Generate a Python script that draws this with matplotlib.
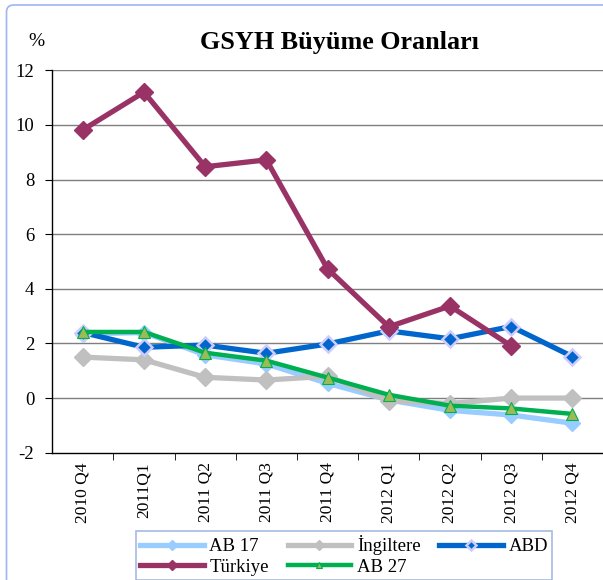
import numpy as np
import matplotlib
matplotlib.use("Agg")
import matplotlib.pyplot as plt
from matplotlib.patches import FancyBboxPatch

categories = ["2010 Q4", "2011Q1", "2011 Q2", "2011 Q3", "2011 Q4",
              "2012 Q1", "2012 Q2", "2012 Q3", "2012 Q4"]
ab17 = [2.35, 2.40, 1.58, 1.25, 0.54, -0.07, -0.45, -0.62, -0.92]
ingiltere = [1.50, 1.40, 0.76, 0.66, 0.80, -0.10, -0.20, 0.00, 0.00]
abd = [2.40, 1.86, 1.94, 1.64, 1.98, 2.46, 2.17, 2.62, 1.52]
turkiye = [9.82, 11.20, 8.47, 8.72, 4.73, 2.61, 3.37, 1.91, np.nan]
ab27 = [2.42, 2.42, 1.66, 1.37, 0.75, 0.12, -0.28, -0.38, -0.58]
yticks = [-2, 0, 2, 4, 6, 8, 10, 12]

plt.rcParams['font.family'] = ['Liberation Serif', 'DejaVu Serif']

W, H = 603, 580
fig = plt.figure(figsize=(W / 100, H / 100), dpi=100)
fig.patch.set_facecolor('white')

# outer chart border (rounded, extends past right/bottom edges)
border = FancyBboxPatch((6.5 / W, -0.1), 1.2, (H - 5) / H + 0.1,
                        boxstyle="round,pad=0,rounding_size=0.012",
                        transform=fig.transFigure, fill=False,
                        edgecolor='#9DB5F2', linewidth=1.2, zorder=0)
fig.patches.append(border)

ax = fig.add_axes([52.2 / W, 1 - 452.7 / H, (W - 52.2) / W, (452.7 - 70.3) / H])
x = np.arange(len(categories))

lw = 3.8
ax.plot(x, ab17, color='#99CCFF', lw=lw, marker='D', ms=8,
        mfc='#99CCFF', mec='#99CCFF', zorder=3, label='AB 17')
ax.plot(x, ingiltere, color='#C0C0C0', lw=lw, marker='D', ms=9,
        mfc='#C0C0C0', mec='#C0C0C0', zorder=3, label='İngiltere')
ax.plot(x, abd, color='#0066CC', lw=lw, marker='D', ms=8,
        mfc='#0066CC', mec='#CCCCFF', mew=1.8, zorder=4, label='ABD')
ax.plot(x, turkiye, color='#993366', lw=lw, marker='D', ms=9,
        mfc='#993366', mec='#993366', zorder=5, label='Türkiye')
ax.plot(x, ab27, color='#00B050', lw=3.2, marker='^', ms=8,
        mfc='#9BBB59', mec='#00B050', mew=0.8, zorder=6, label='AB 27')

ax.set_xlim(-0.5, len(categories) - 0.5)
ax.set_ylim(-2, 12)
ax.set_yticks(yticks)
ax.set_yticklabels([str(v) for v in yticks], fontsize=13.5)
ax.set_xticks(x)
ax.set_xticklabels(categories, rotation=90, fontsize=12.5)
ax.set_xticks(np.arange(len(categories)) + 0.5, minor=True)
ax.tick_params(axis='x', which='major', length=0, pad=7)
ax.tick_params(axis='x', which='minor', length=5, direction='out', color='black')
ax.tick_params(axis='y', length=5, direction='out', pad=8, color='black')

for v in yticks[1:]:
    ax.axhline(v, color='#7F7F7F', lw=1.0, zorder=1)

for s in ['top', 'right']:
    ax.spines[s].set_visible(False)
ax.spines['left'].set_color('black')
ax.spines['bottom'].set_color('black')
ax.spines['left'].set_linewidth(1.0)
ax.spines['bottom'].set_linewidth(1.0)

fig.text(339 / W, 1 - 43 / H, 'GSYH Büyüme Oranları', ha='center', va='center',
         fontsize=18.8, fontweight='bold')
fig.text(36 / W, 1 - 42 / H, '%', ha='center', va='center', fontsize=14)

handles, labels = ax.get_legend_handles_labels()
order = [0, 3, 1, 4, 2]
leg = fig.legend([handles[i] for i in order], [labels[i] for i in order],
                 loc='center', bbox_to_anchor=(344 / W, 1 - 555.5 / H),
                 ncol=3, fontsize=13.5, frameon=True, fancybox=False,
                 handlelength=3.4, handletextpad=0.3, columnspacing=1.0,
                 labelspacing=0.2, borderpad=0.2, markerscale=0.6)
leg.get_frame().set_edgecolor('#8FAADC')
leg.get_frame().set_linewidth(1.2)

fig.savefig('out.png', dpi=100, facecolor='white')
